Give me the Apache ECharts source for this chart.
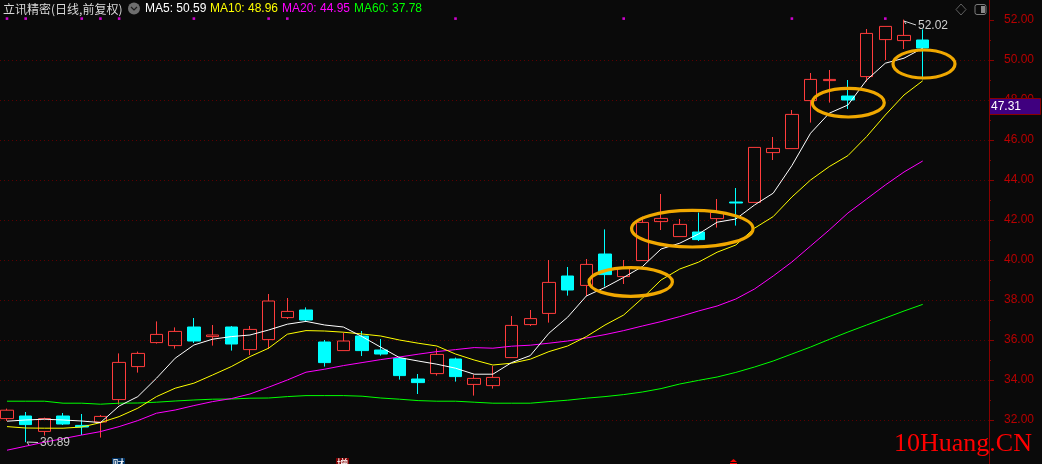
<!DOCTYPE html>
<html><head><meta charset="utf-8">
<style>html,body{margin:0;padding:0;background:#0a0a0a;overflow:hidden}#c{width:1042px;height:464px}</style>
<script src="https://cdn.jsdelivr.net/npm/echarts@6/dist/echarts.min.js"></script>
</head><body><div id="c"></div>
<script>
const categories = ['d01','d02','d03','d04','d05','d06','d07','d08','d09','d10','d11','d12','d13','d14','d15','d16','d17','d18','d19','d20','d21','d22','d23','d24','d25','d26','d27','d28','d29','d30','d31','d32','d33','d34','d35','d36','d37','d38','d39','d40','d41','d42','d43','d44','d45','d46','d47','d48','d49','d50'];
const opens = [32.07,32.2,31.43,32.2,31.73,31.9,33.02,34.67,35.87,35.72,36.65,36.17,36.65,35.52,36.02,37.12,37.5,35.9,35.47,36.2,35.5,35.08,34.05,34.32,35.05,33.78,33.72,35.12,36.77,37.33,39.2,38.73,40.3,39.17,39.97,41.92,41.17,41.4,42.07,42.9,42.88,45.37,45.57,47.97,48.97,48.2,49.17,51.02,50.97,51.0];
const closes = [32.49,31.77,32.07,31.8,31.65,32.18,34.88,35.33,36.28,36.43,35.95,36.25,35.8,36.53,37.95,37.43,37.0,34.87,35.95,35.47,35.3,34.22,33.87,35.28,34.17,34.08,34.13,36.73,37.07,38.88,38.5,39.78,39.27,39.58,41.88,42.08,41.78,41.02,42.38,42.85,45.63,45.58,47.28,49.03,49.03,48.0,51.33,51.68,51.23,50.6];
const lows = [31.95,30.89,31.22,31.75,31.25,31.12,32.77,34.37,35.82,35.57,35.85,35.72,35.47,35.25,35.55,37.05,36.92,34.67,35.47,35.2,35.22,34.02,33.3,34.22,33.92,33.22,33.57,35.12,36.7,36.87,38.22,38.2,38.67,38.8,39.97,41.5,41.17,40.95,41.62,41.72,42.88,45.0,45.57,46.87,47.87,47.55,48.92,50.0,50.55,49.03];
const highs = [32.57,32.4,32.12,32.35,32.3,32.25,35.33,35.42,36.93,36.63,37.1,36.75,36.7,36.7,38.3,38.1,37.63,36.0,36.37,36.45,36.05,35.17,34.3,35.58,35.12,34.27,34.7,37.2,37.5,40.0,39.65,40.05,41.53,40.0,42.17,43.3,42.05,42.37,43.05,43.6,45.63,46.15,47.5,49.35,49.5,49.0,51.55,51.68,52.02,51.53];
const ma5 = [31.94,32.0,32.04,32.0,31.95,31.87,32.7,33.17,34.09,35.09,35.75,36.04,36.17,36.25,36.5,36.79,36.93,36.75,36.65,36.17,35.64,35.12,34.95,34.79,34.59,34.29,34.29,34.87,35.22,36.34,37.14,38.2,38.63,39.13,39.67,40.55,40.84,41.3,41.89,42.05,42.75,43.34,44.72,46.34,47.34,47.75,49.0,49.84,50.09,50.59];
const ma10 = [31.67,31.6,31.59,31.59,31.65,31.87,32.17,32.59,33.17,33.59,33.84,34.25,34.67,35.17,35.59,36.29,36.47,36.45,36.39,36.3,36.2,36.0,35.84,35.7,35.3,35.0,34.75,34.84,35.04,35.42,35.7,36.17,36.75,37.25,38.09,39.0,39.55,39.89,40.39,40.75,41.59,42.17,43.15,44.0,44.67,45.22,46.17,47.25,48.25,48.96];
const ma20 = [30.49,30.69,30.89,31.07,31.25,31.42,31.67,31.97,32.34,32.5,32.72,32.92,33.07,33.3,33.64,34.0,34.39,34.54,34.72,34.87,35.02,35.15,35.29,35.42,35.52,35.62,35.59,35.69,35.74,35.84,35.95,36.1,36.27,36.47,36.7,36.92,37.17,37.45,37.7,38.05,38.55,39.2,39.9,40.7,41.5,42.35,43.05,43.75,44.4,44.95];
const ma60 = [32.94,32.94,32.94,32.84,32.84,32.79,32.84,32.85,32.89,32.95,33.0,33.04,33.05,33.09,33.1,33.17,33.22,33.22,33.22,33.19,33.1,33.04,32.97,32.94,32.94,32.89,32.84,32.84,32.84,32.92,32.99,33.09,33.17,33.27,33.4,33.57,33.8,33.98,34.15,34.38,34.65,34.95,35.3,35.65,36.03,36.4,36.75,37.1,37.45,37.78];
const yLabels = [32,34,36,38,40,42,44,46,48,50,52];
const yMinorTicks = [33,35,37,39,41,43,45,47,49,51];
const gridValues = [32,34,36,38,40,42,44,46,48,50];
const eventCategories = ['d01','d02','d05','d06','d07','d11','d15','d16','d25','d34','d43','d48'];
const eventLevel = 52.07;
const maLegend = [['MA5: 50.59','#ffffff',145],['MA10: 48.96','#ffff00',210],['MA20: 44.95','#ff00ff',282],['MA60: 37.78','#00ff00',354]];

const UI = 'Liberation Sans';
const RED = '#ff3c3c', CYAN = '#00ffff', AXIS = '#8a0000', LABEL = '#b80000';
const candleData = opens.map((o,i)=>[o,closes[i],lows[i],highs[i]]);
const lineSeries = (name,data,color)=>({name,type:'line',xAxisIndex:1,yAxisIndex:2,data,showSymbol:false,symbol:'none',smooth:false,z:5,silent:true,clip:false,
  lineStyle:{color,width:1},itemStyle:{color}});
const ring = (cx,cy,rx,ry)=>({type:'ellipse',z:100,shape:{cx,cy,rx,ry},style:{fill:'none',stroke:'#f0a800',lineWidth:3.2}});
const txt = (x,y,text,fill,extra)=>({type:'text',z:101,x,y,style:Object.assign({text,fill,font:'12px "'+UI+'"',textVerticalAlign:'middle'},extra||{})});

const graphic = [
  txt(3,9,'立讯精密(日线,前复权)','#d8d8d8',{font:'12px "Noto Sans CJK SC"'}),
  {type:'circle',z:101,shape:{cx:134,cy:8.5,r:6},style:{fill:'#6e6e6e'}},
  {type:'polyline',z:102,shape:{points:[[131,7],[134,10],[137,7]]},style:{fill:'none',stroke:'#1c1c1c',lineWidth:1.2}},
  ...maLegend.map(m=>txt(m[2],9,m[0],m[1])),
  {type:'polygon',z:101,shape:{points:[[961,4],[966,9.5],[961,15],[956,9.5]]},style:{fill:'none',stroke:'#5f5f5f',lineWidth:1}},
  {type:'rect',z:101,shape:{x:975,y:4.5,width:11,height:10,r:2},style:{fill:'none',stroke:'#7a7a7a',lineWidth:1}},
  {type:'rect',z:101,shape:{x:981,y:6,width:4,height:7},style:{fill:'#8a8a8a'}},
  ring(630.7,282,41.7,14.3), ring(692.3,228.7,60.7,18.3), ring(848.3,102.7,36,14.3), ring(924,64,31,14),
  {type:'polyline',z:101,shape:{points:[[38,442.5],[27,442],[29,445]]},style:{fill:'none',stroke:'#d0d0d0',lineWidth:1}},
  txt(40,443,'30.89','#c8c8c8'),
  {type:'polyline',z:101,shape:{points:[[916,25],[904,21],[906,24]]},style:{fill:'none',stroke:'#d0d0d0',lineWidth:1}},
  txt(918,26,'52.02','#d0d0d0'),
  {type:'rect',z:110,shape:{x:989.5,y:98.5,width:51,height:16},style:{fill:'#3f007f',stroke:'#8a0000',lineWidth:1}},
  Object.assign(txt(991,106.5,'47.31','#ffffff'),{z:111}),
  {type:'rect',z:101,shape:{x:112,y:458,width:13,height:6},style:{fill:'#003366'}},
  {type:'text',z:102,x:112.5,y:458,style:{text:'财',fill:'#ffffff',font:'12px "Noto Sans CJK SC"'}},
  {type:'rect',z:101,shape:{x:336,y:458,width:13,height:6},style:{fill:'#800000'}},
  {type:'text',z:102,x:336.5,y:458,style:{text:'增',fill:'#ffffff',font:'12px "Noto Sans CJK SC"'}},
  {type:'polygon',z:101,shape:{points:[[733.5,459],[737,462],[730,462]]},style:{fill:'#ff0000'}},
  {type:'rect',z:101,shape:{x:730,y:463,width:7,height:1},style:{fill:'#ff0000'}},
  {type:'text',z:120,x:894,y:431,style:{text:'10Huang.CN',fill:'#ff0000',font:'26px "Liberation Serif"'}}
];
graphic.forEach(g=>{g.silent=true;});

const chart = echarts.init(document.getElementById('c'),null,{renderer:'canvas',width:1042,height:464});
chart.setOption({
  animation:false,
  backgroundColor:'#0a0a0a',
  grid:[{left:0,right:53,top:0,bottom:0},{left:7,right:119.3,top:0,bottom:0}],
  xAxis:[{type:'category',gridIndex:0,data:[''],show:false},
         {type:'category',gridIndex:1,data:categories,boundaryGap:false,show:false}],
  yAxis:[{
    type:'value',gridIndex:0,position:'right',min:29.8,max:53,scale:true,
    splitLine:{show:false},
    axisLine:{show:true,onZero:false,lineStyle:{color:AXIS,width:1}},
    axisTick:{show:true,length:5,customValues:yLabels,lineStyle:{color:AXIS}},
    axisLabel:{show:true,margin:15,padding:[2,0,0,0],color:LABEL,fontSize:12,fontFamily:UI,customValues:yLabels,formatter:v=>v.toFixed(2)}
  },{
    type:'value',gridIndex:0,position:'right',min:29.8,max:53,scale:true,
    splitLine:{show:false},
    axisLine:{show:false},
    axisTick:{show:true,length:2,customValues:yMinorTicks,lineStyle:{color:AXIS}},
    axisLabel:{show:false}
  },{
    type:'value',gridIndex:1,min:29.8,max:53,scale:true,show:false,splitLine:{show:false}
  }],
  series:[
    {name:'grid',type:'line',xAxisIndex:0,yAxisIndex:0,data:[],z:1,silent:true,
     markLine:{z:1,silent:true,symbol:'none',label:{show:false},animation:false,
       lineStyle:{color:'#5c0000',width:1,type:[1,3]},
       data:gridValues.map(v=>({yAxis:v}))}},
    {name:'K',type:'candlestick',xAxisIndex:1,yAxisIndex:2,data:candleData,barWidth:13,z:3,silent:true,clip:false,
     itemStyle:{color:'transparent',color0:CYAN,borderColor:RED,borderColor0:CYAN,borderWidth:1}},
    lineSeries('MA60',ma60,'#00ff00'),
    lineSeries('MA20',ma20,'#ff00ff'),
    lineSeries('MA10',ma10,'#ffff00'),
    lineSeries('MA5',ma5,'#ffffff'),
    {name:'events',type:'scatter',xAxisIndex:1,yAxisIndex:2,data:eventCategories.map(c=>[c,eventLevel]),symbol:'rect',symbolSize:2.6,z:6,silent:true,clip:false,
     itemStyle:{color:'#ff00ff'}}
  ],
  graphic
});
</script></body></html>
